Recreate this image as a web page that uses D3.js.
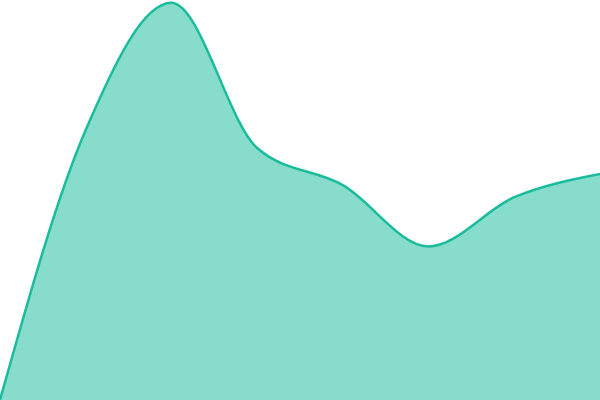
<!DOCTYPE html>
<html>
<head>
<meta charset="utf-8">
<script src="https://cdn.jsdelivr.net/npm/d3@7"></script>
<style>
  body { margin: 0; background: #fff; }
</style>
</head>
<body>
<div class="chart"></div>
<script>
// series
const steps = [0, 1, 2, 3, 4, 5, 6, 7];
const values = [0, 67.5, 99.3, 63.0, 53.7, 38.4, 50.7, 56.5];

const width = 600, height = 400;

const svg = d3.select('.chart')
    .append('svg')
    .attr('width', width)
    .attr('height', height);

const data = steps.map((s, i) => ({ step: s, value: values[i] }));

const xScale = d3.scaleLinear()
    .domain(d3.extent(steps))
    .range([0, width]);

const yScale = d3.scaleLinear()
    .domain([0, 100])
    .range([height, 0]);

const area = d3.area()
    .x(d => xScale(d.step))
    .y0(height)
    .y1(d => yScale(d.value))
    .curve(d3.curveMonotoneX);

const line = d3.line()
    .x(d => xScale(d.step))
    .y(d => yScale(d.value))
    .curve(d3.curveMonotoneX);

svg.append('path')
    .datum(data)
    .attr('d', area)
    .attr('fill', '#1abc9c')
    .attr('fill-opacity', 0.52);

svg.append('path')
    .datum(data)
    .attr('d', line)
    .attr('fill', 'none')
    .attr('stroke', '#1abc9c')
    .attr('stroke-width', 2.5);
</script>
</body>
</html>
